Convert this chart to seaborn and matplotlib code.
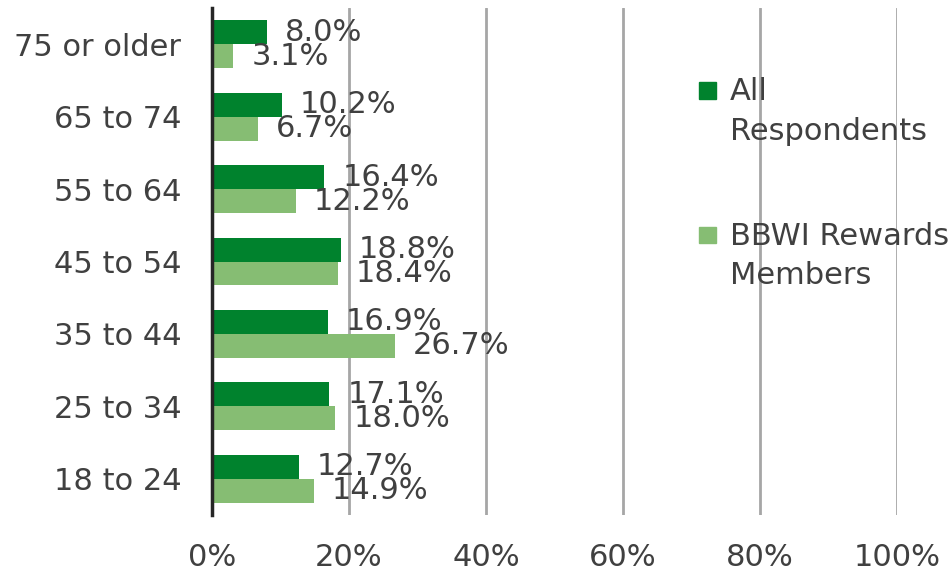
import numpy as np
import pandas as pd
import seaborn as sns
import matplotlib.pyplot as plt
from matplotlib.patches import Rectangle
from matplotlib.legend_handler import HandlerPatch

# age groups, top to bottom as drawn
age_groups = ["75 or older", "65 to 74", "55 to 64", "45 to 54",
              "35 to 44", "25 to 34", "18 to 24"]
all_respondents = [8.0, 10.2, 16.4, 18.8, 16.9, 17.1, 12.7]
rewards_members = [3.1, 6.7, 12.2, 18.4, 26.7, 18.0, 14.9]
series_names = ["All\nRespondents", "BBWI Rewards\nMembers"]
x_ticks = [0, 20, 40, 60, 80, 100]

DARK = "#00822D"
LIGHT = "#86BD73"
TEXT = "#404040"
FS = 22

df = pd.DataFrame({
    "Age": age_groups * 2,
    "Share": all_respondents + rewards_members,
    "Group": [series_names[0]] * len(age_groups) + [series_names[1]] * len(age_groups),
})

sns.set_style("white")
plt.rcParams["font.family"] = ["DejaVu Sans"]

fig = plt.figure(figsize=(9.48, 5.82), dpi=100)
ax = fig.add_axes([212 / 948, 1 - 515 / 582, (897 - 212) / 948, (515 - 8) / 582])

sns.barplot(data=df, y="Age", x="Share", hue="Group", order=age_groups,
            hue_order=series_names, palette=[DARK, LIGHT], saturation=1,
            orient="h", width=0.66, linewidth=0, legend=False, ax=ax)

for cont, vals in zip(ax.containers, [all_respondents, rewards_members]):
    ax.bar_label(cont, labels=[f"{v:.1f}%" for v in vals], padding=13,
                 fontsize=FS, color=TEXT)

ax.set_xlim(0, 100)
ax.set_ylim(len(age_groups) - 0.5, -0.5)
ax.set_xticks(x_ticks)
ax.set_xticklabels([f"{t}%" for t in x_ticks])
ax.set_xlabel("")
ax.set_ylabel("")
ax.tick_params(axis="x", length=0, pad=20, labelsize=FS, labelcolor=TEXT)
ax.tick_params(axis="y", length=0, pad=22, labelsize=FS, labelcolor=TEXT)

ax.grid(axis="x", color="#A6A6A6", linewidth=2)
ax.set_axisbelow(True)
for side in ["top", "right", "bottom"]:
    ax.spines[side].set_visible(False)
ax.spines["left"].set_color("#262626")
ax.spines["left"].set_linewidth(2.5)
ax.spines["left"].set_zorder(5)


def square_top(legend, orig_handle, xdescent, ydescent, width, height, fontsize):
    size = 0.55 * fontsize
    shift = 0.72 * fontsize
    return Rectangle((-xdescent, -ydescent + (height - size) / 2 + shift), size, size)


handles = [Rectangle((0, 0), 1, 1, color=DARK), Rectangle((0, 0), 1, 1, color=LIGHT)]
leg = fig.legend(handles, series_names, loc="upper left",
                 bbox_to_anchor=(684 / 948, 1 - 62 / 582), frameon=False,
                 fontsize=FS, labelcolor=TEXT, handlelength=0.55,
                 handletextpad=0.45, labelspacing=2.5, borderpad=0,
                 handler_map={Rectangle: HandlerPatch(patch_func=square_top)})
for t in leg.get_texts():
    t.set_linespacing(1.45)

fig.savefig("out.png", dpi=100)
